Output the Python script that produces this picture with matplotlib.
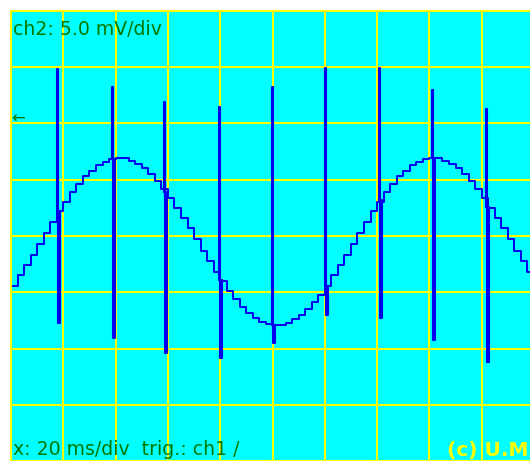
import matplotlib.pyplot as plt

# Kanal 2: treppenfoermiger Sinus, ein Abtastwert alle 2.5 ms (Werte in mV)
sample_step = 2.5
level = [-4.4, -3.5, -2.6, -1.7, -0.7, 0.3, 1.2, 2.2, 3.0, 3.9,
         4.6, 5.3, 5.8, 6.3, 6.6, 6.8, 6.9, 6.9, 6.7, 6.4,
         6.0, 5.5, 4.9, 4.2, 3.4, 2.5, 1.6, 0.7, -0.3, -1.3,
         -2.2, -3.2, -4.0, -4.9, -5.6, -6.3, -6.8, -7.3, -7.6, -7.8,
         -7.9, -7.9, -7.7, -7.4, -7.0, -6.5, -5.9, -5.2, -4.4, -3.5,
         -2.6, -1.7, -0.7, 0.3, 1.2, 2.2, 3.0, 3.9, 4.6, 5.3,
         5.8, 6.3, 6.6, 6.8, 6.9, 6.9, 6.7, 6.4, 6.0, 5.5,
         4.9, 4.2, 3.4, 2.5, 1.6, 0.7, -0.3, -1.3, -2.2, -3.2,
         -4.0]
times = [i * sample_step for i in range(len(level))]

# Stoerspitzen (ms, mV)
spike_t = [17.6, 38.6, 58.5, 79.5, 99.8, 120.1, 140.7, 161.0, 181.6]
spike_top = [14.8, 13.2, 11.9, 11.5, 13.2, 14.9, 14.9, 13.0, 11.3]
spike_bot = [-7.7, -9.1, -10.4, -10.8, -9.5, -7.0, -7.3, -9.2, -11.2]
spike_base = [2.2, 6.8, 3.9, -3.9, -7.9, -4.4, 3.2, 6.9, 2.6]

W, H = 530, 461
fig = plt.figure(figsize=(W / 100, H / 100), dpi=100)
fig.patch.set_facecolor("white")
ax = fig.add_axes([11 / W, 0, 523 / W, 450 / H])
ax.set_facecolor("#00FFFF")

trace = "#0000F0"
ax.plot(times, level, drawstyle="steps-post", color=trace, lw=1.4)
for t, top, bot, base in zip(spike_t, spike_top, spike_bot, spike_base):
    ax.plot([t, t, t + 0.5, t + 0.5, t + 1.2, t + 1.2],
            [base, top, top, bot, bot, base], color=trace, lw=1.5)

ax.set_xlim(0, 200)
ax.set_ylim(-20, 20)
ax.set_xticks(range(0, 201, 20))
ax.set_yticks(range(-20, 21, 5))
ax.tick_params(length=0, labelbottom=False, labelleft=False)
ax.grid(color="#FFFF00", linewidth=1.5)
ax.set_axisbelow(True)
for s in ax.spines.values():
    s.set_color("#FFFF00")
    s.set_linewidth(1.5)

# Beschriftung
fig.text(13 / W, 1 - 20 / H, "ch2: 5.0 mV/div", ha="left", va="top",
         color="#007800", fontsize=13.6)
fig.text(13 / W, 1 - 455 / H, "x: 20 ms/div  trig.: ch1 /", ha="left",
         va="baseline", color="#007800", fontsize=13.6)
fig.text(447 / W, 1 - 456 / H, "(c) U.M", ha="left", va="baseline",
         color="#FFFF00", fontsize=14.5, fontweight="bold")
fig.text(11 / W, 1 - 119 / H, "←", ha="left", va="center",
         color="#007800", fontsize=12)

fig.savefig("out.png", dpi=100, facecolor="white")
